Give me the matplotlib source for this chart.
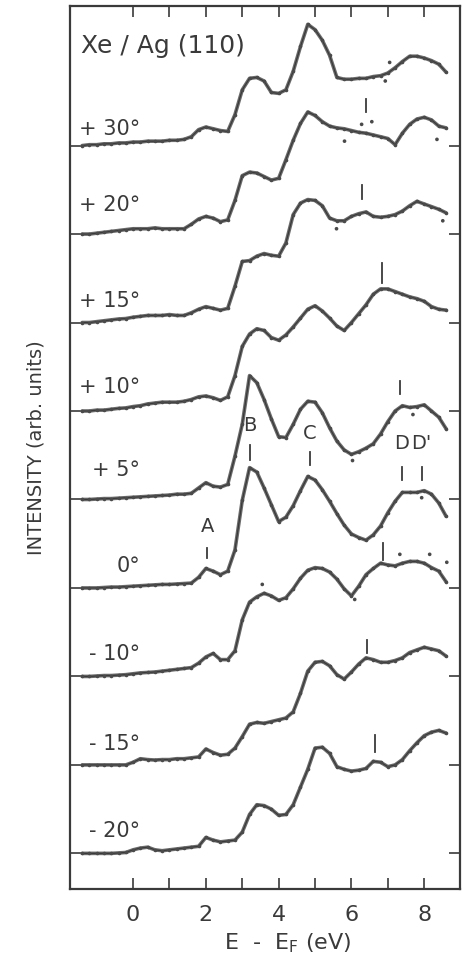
import numpy as np
import matplotlib.pyplot as plt

# photon energy grid (eV relative to E_F)
energy = np.round(np.arange(-1.4, 8.61, 0.2), 1)

angles = ["- 20°", "- 15°", "- 10°", "0°", "+ 5°", "+ 10°", "+ 15°", "+ 20°", "+ 30°"]

i_m20 = [0.0, 0.0, 0.0, 0.0, 0.0, 0.05, 0.1, 0.4, 0.6, 0.7, 0.4, 0.3, 0.4, 0.5, 0.6, 0.7, 0.8,
         1.8, 1.5, 1.3, 1.4, 1.5, 2.4, 4.4, 5.5, 5.4, 5.0, 4.3, 4.4, 5.5, 7.5, 9.5, 11.9, 12.0,
         11.3, 9.8, 9.5, 9.3, 9.4, 9.6, 10.4, 10.3, 9.8, 10.0, 10.6, 11.6, 12.5, 13.3, 13.7, 13.9, 13.6]
i_m15 = [0.0, 0.0, 0.0, 0.0, 0.0, 0.0, 0.0, 0.3, 0.7, 0.6, 0.55, 0.6, 0.6, 0.7, 0.7, 0.8, 0.9,
         1.8, 1.4, 1.1, 1.2, 1.9, 3.2, 4.6, 4.8, 4.7, 4.9, 5.1, 5.3, 6.0, 8.1, 10.6, 11.6, 11.7,
         11.2, 10.2, 9.7, 10.5, 11.4, 12.1, 11.9, 11.6, 11.6, 11.8, 12.1, 12.7, 13.0, 13.3, 13.1, 12.9, 12.3]
i_m10 = [0.0, 0.0, 0.05, 0.1, 0.1, 0.15, 0.2, 0.3, 0.4, 0.45, 0.5, 0.6, 0.7, 0.8, 0.9, 1.0, 1.5,
         2.2, 2.6, 1.9, 1.9, 2.9, 6.4, 8.4, 9.0, 9.4, 9.1, 8.6, 8.9, 9.9, 11.1, 12.0, 12.3, 12.2,
         11.8, 11.0, 9.9, 9.1, 10.2, 11.5, 12.2, 12.8, 12.6, 12.5, 12.8, 13.0, 13.0, 12.8, 12.3, 11.9, 10.7]
i_0 = [0.0, 0.0, 0.0, 0.05, 0.1, 0.1, 0.15, 0.2, 0.25, 0.3, 0.35, 0.4, 0.4, 0.45, 0.5, 0.55, 1.2,
       2.2, 1.9, 1.5, 1.9, 4.3, 9.9, 13.6, 13.1, 11.3, 9.4, 7.5, 8.0, 9.3, 11.0, 12.6, 12.2, 11.1,
       9.8, 8.4, 7.1, 6.1, 5.7, 5.4, 6.0, 7.0, 8.5, 9.8, 10.8, 10.8, 10.8, 11.0, 10.6, 9.6, 8.1]
i_p5 = [0.0, 0.0, 0.05, 0.1, 0.1, 0.15, 0.2, 0.25, 0.3, 0.35, 0.4, 0.45, 0.5, 0.6, 0.6, 0.7, 1.3,
        1.9, 1.5, 1.4, 1.7, 4.9, 8.5, 14.0, 13.2, 11.3, 9.1, 7.1, 7.0, 8.5, 10.2, 11.1, 11.0, 9.8,
        8.1, 6.6, 5.6, 5.1, 5.4, 5.8, 6.3, 7.4, 8.8, 10.0, 10.6, 10.4, 10.5, 10.7, 10.0, 9.3, 8.0]
i_p10 = [0.0, 0.0, 0.1, 0.1, 0.2, 0.3, 0.35, 0.5, 0.6, 0.8, 0.9, 1.0, 1.0, 1.0, 1.1, 1.3, 1.6,
         1.7, 1.5, 1.2, 1.6, 4.0, 7.3, 8.7, 9.3, 9.1, 8.3, 8.0, 8.6, 9.5, 10.5, 11.5, 11.9, 11.3,
         10.5, 9.6, 9.1, 10.0, 11.0, 12.0, 13.2, 13.8, 13.8, 13.5, 13.2, 12.9, 12.7, 12.4, 11.8, 11.5, 11.4]
i_p15 = [0.0, 0.0, 0.1, 0.2, 0.3, 0.4, 0.45, 0.6, 0.7, 0.8, 0.8, 0.8, 0.9, 0.8, 0.8, 1.1, 1.5,
         1.8, 1.6, 1.4, 1.6, 4.1, 6.9, 7.0, 7.5, 7.8, 7.6, 7.5, 9.0, 12.2, 13.5, 13.9, 13.8, 13.2,
         11.8, 11.5, 11.5, 12.0, 12.3, 12.5, 12.0, 11.9, 12.0, 12.2, 12.6, 13.2, 13.7, 13.4, 13.1, 12.8, 12.4]
i_p20 = [0.0, 0.0, 0.1, 0.2, 0.3, 0.4, 0.5, 0.6, 0.6, 0.6, 0.7, 0.6, 0.6, 0.6, 0.6, 1.1, 1.7,
         2.0, 1.8, 1.4, 1.6, 3.8, 6.6, 7.0, 6.9, 6.5, 6.1, 6.3, 8.4, 10.6, 12.5, 13.8, 13.4, 12.7,
         12.2, 12.0, 11.9, 11.7, 11.5, 11.4, 11.2, 11.0, 10.8, 10.1, 11.4, 12.4, 13.0, 13.2, 12.9, 12.2, 12.0]
i_p30 = [0.0, 0.1, 0.1, 0.2, 0.2, 0.3, 0.3, 0.4, 0.4, 0.5, 0.5, 0.5, 0.6, 0.6, 0.7, 1.0, 1.8,
         2.1, 1.9, 1.7, 1.6, 3.5, 6.3, 7.6, 7.7, 7.3, 6.0, 5.9, 6.3, 8.4, 11.2, 13.7, 13.1, 11.9,
         10.2, 7.7, 7.5, 7.5, 7.6, 7.6, 7.8, 7.9, 8.2, 8.8, 9.5, 10.1, 10.1, 9.9, 9.6, 9.2, 8.3]

spectra = [i_m20, i_m15, i_m10, i_0, i_p5, i_p10, i_p15, i_p20, i_p30]
step = 10.0

# single counts lying off the smoothed curves: curve index, energy, intensity
stray_k = [8, 8, 7, 7, 7, 7, 6, 6, 4, 4, 3, 2, 2, 2, 2, 2]
stray_e = [6.93, 7.05, 5.81, 6.28, 6.56, 8.35, 5.59, 8.51, 6.03, 7.69, 7.93, 3.55, 6.09, 7.33, 8.15, 8.62]
stray_i = [7.3, 9.4, 10.5, 12.4, 12.7, 10.7, 10.6, 11.5, 4.4, 9.6, 10.2, 10.4, 8.7, 13.8, 13.8, 12.9]

# where each angle label sits above its baseline
label_lift = [1.9, 1.7, 1.9, 1.8, 2.7, 2.0, 1.8, 2.6, 1.2]

# short vertical markers: (curve index, energy, bottom, top) in curve units
marks = [(0, 6.65, 11.5, 13.4), (1, 6.42, 12.7, 14.1), (2, 6.86, 13.2, 15.1),
         (4, 7.33, 11.9, 13.4), (5, 6.83, 14.5, 16.7), (6, 6.28, 14.0, 15.5),
         (7, 6.40, 13.8, 15.3)]

# peak labels on the normal-emission curve: (name, energy, tick bottom, tick top, text bottom)
peaks = [("A", 2.04, 3.4, 4.5, 5.9), ("B", 3.2, 14.5, 16.2, 17.3), ("C", 4.85, 13.9, 15.4, 16.4),
         ("D", 7.38, 12.2, 13.7, 15.2), ("D'", 7.93, 12.2, 13.7, 15.2)]

fig = plt.figure(figsize=(4.65, 9.65), dpi=100)
ax = fig.add_axes([0.150, 0.079, 0.839, 0.915])

ink = "#3a3a3a"
for k, (vals, lab) in enumerate(zip(spectra, angles)):
    y = np.array(vals) + k * step
    ax.plot(energy, y, color="#6a6a6a", lw=2.6, solid_capstyle="round", zorder=2)
    ax.plot(energy, y, color=ink, lw=0.9, marker="o", ms=2.6, mfc="#4a4a4a", mec="none", zorder=3)
    ax.text(0.2, k * step + label_lift[k], lab, ha="right", va="baseline", fontsize=15, color=ink)

ax.scatter(stray_e, np.array(stray_i) + np.array(stray_k) * step, s=7, color="#4a4a4a",
           edgecolors="none", zorder=3)

for k, e, y0, y1 in marks:
    ax.plot([e, e], [k * step + y0, k * step + y1], color=ink, lw=1.3)

k0 = angles.index("0°")
for name, e, y0, y1, ty in peaks:
    ax.plot([e, e], [k0 * step + y0, k0 * step + y1], color=ink, lw=1.3)
    ax.text(e, k0 * step + ty, name, ha="center", va="bottom", fontsize=14, color=ink)

ax.text(-1.43, 90.5, "Xe / Ag (110)", ha="left", va="baseline", fontsize=18, color=ink)

ax.set_xlim(-1.74, 8.98)
ax.set_ylim(-4.0, 95.8)
ax.set_xticks([0, 2, 4, 6, 8])
ax.set_xticks([1, 3, 5, 7], minor=True)
ax.set_yticks([k * step for k in range(len(spectra))])
ax.set_yticklabels([])
ax.tick_params(axis="both", which="both", direction="in", top=True, right=True,
               length=8, width=1.2, color=ink)
ax.tick_params(axis="x", labelsize=16, pad=12, labelcolor=ink)
for s in ax.spines.values():
    s.set_linewidth(1.6)
    s.set_color(ink)

ax.set_xlabel(r"E  -  E$_\mathregular{F}$ (eV)", fontsize=16, color=ink, x=0.56, labelpad=4)
ax.set_ylabel("INTENSITY (arb. units)", fontsize=14, color=ink, labelpad=14)

fig.savefig("out.png", dpi=100)
